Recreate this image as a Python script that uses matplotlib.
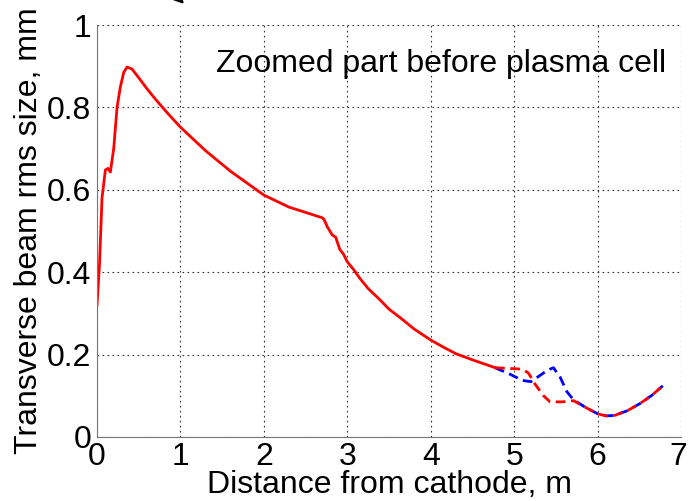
import numpy as np
import matplotlib.pyplot as plt
import matplotlib.transforms as mtransforms

plt.rcParams['font.family'] = ['Liberation Sans', 'DejaVu Sans']

# solid red: before the plasma cell
z_main = [0.0, 0.03, 0.06, 0.1, 0.13, 0.16, 0.2, 0.24, 0.28, 0.32, 0.36, 0.42,
          0.5, 0.6, 0.7, 0.85, 1.0, 1.3, 1.6, 2.0, 2.3, 2.5, 2.7, 2.72, 2.76,
          2.82, 2.86, 2.91, 2.95, 3.0, 3.08, 3.15, 3.25, 3.39, 3.5, 3.63, 3.8,
          4.0, 4.15, 4.3, 4.5, 4.77]
s_main = [0.32, 0.42, 0.58, 0.648, 0.652, 0.643, 0.70, 0.80, 0.85, 0.885, 0.898,
          0.893, 0.872, 0.845, 0.82, 0.785, 0.752, 0.695, 0.645, 0.587, 0.558,
          0.545, 0.532, 0.528, 0.51, 0.49, 0.485, 0.455, 0.445, 0.425, 0.405,
          0.385, 0.36, 0.333, 0.31, 0.29, 0.262, 0.235, 0.218, 0.202, 0.187,
          0.168]

# dashed blue
z_blue = [4.77, 4.95, 5.1, 5.2, 5.3, 5.4, 5.47, 5.55, 5.63, 5.71, 5.85, 6.0,
          6.1, 6.2, 6.35, 6.5, 6.65, 6.78]
s_blue = [0.168, 0.152, 0.137, 0.134, 0.148, 0.162, 0.168, 0.145, 0.11, 0.09,
          0.072, 0.056, 0.051, 0.052, 0.063, 0.08, 0.101, 0.124]

# dashed red
z_red = [4.77, 4.95, 5.05, 5.11, 5.17, 5.25, 5.35, 5.43, 5.55, 5.65, 5.71,
         5.85, 6.0, 6.1, 6.2, 6.35, 6.5, 6.65, 6.78]
s_red = [0.168, 0.166, 0.165, 0.163, 0.155, 0.128, 0.1, 0.085, 0.085, 0.086,
         0.088, 0.072, 0.056, 0.051, 0.052, 0.063, 0.08, 0.101, 0.124]

fig = plt.figure(figsize=(6.88, 5.01), dpi=100)
ax = fig.add_axes([0.141, 0.128, 0.849, 0.822])

ax.plot(z_blue, s_blue, color='blue', lw=2, ls=(0, (3.5, 2)))
ax.plot(z_red, s_red, color='red', lw=2, ls=(0, (3.5, 2)))
ax.plot(z_main, s_main, color='red', lw=2)

ax.set_xlim(0, 7)
ax.set_ylim(0, 1)
ax.set_xticks(range(8))
ax.set_yticks([0, 0.2, 0.4, 0.6, 0.8, 1])
ax.set_yticklabels(['0', '0.2', '0.4', '0.6', '0.8', '1'])
ax.grid(True, color='#333333', ls=(0, (1.5, 3)), lw=0.8)
for side in ['top', 'right']:
    ax.spines[side].set_visible(False)
for side in ['left', 'bottom']:
    ax.spines[side].set_color('#777777')
ax.tick_params(length=0, labelsize=23, pad=4)

# keep the last x tick label inside the picture
last = ax.get_xticklabels()[-1]
last.set_transform(last.get_transform() +
                   mtransforms.ScaledTranslation(-3 / 100, 0, fig.dpi_scale_trans))

ax.set_xlabel('Distance from cathode, m', fontsize=23, labelpad=-2)
ax.set_ylabel('Transverse beam rms size, mm', fontsize=23, labelpad=2)
ax.text(0.975, 0.905, 'Zoomed part before plasma cell', transform=ax.transAxes,
        ha='right', va='center', fontsize=23)

# clipped arrow at the very top
ax.annotate('', xy=(186, 495), xytext=(160, 522), xycoords='figure pixels',
            textcoords='figure pixels', annotation_clip=False,
            arrowprops=dict(arrowstyle='-|>,head_length=0.9,head_width=0.45',
                            fc='white', ec='black', lw=1.6))

fig.savefig('out.png', dpi=100)
